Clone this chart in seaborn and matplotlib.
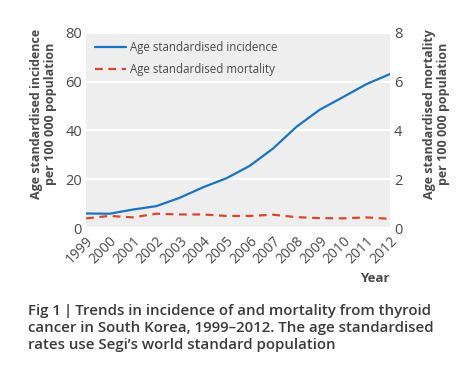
import matplotlib
matplotlib.use("Agg")
import matplotlib.pyplot as plt
import seaborn as sns
import numpy as np
import pandas as pd

years = list(range(1999, 2013))
incidence = [6.0, 5.9, 7.6, 9.0, 12.4, 16.7, 20.4, 25.5, 32.6, 41.5, 48.5, 53.7, 59.0, 63.1]
mortality = [0.40, 0.50, 0.44, 0.59, 0.56, 0.56, 0.50, 0.50, 0.55, 0.45, 0.41, 0.40, 0.44, 0.38]

left_ticks = [0, 20, 40, 60, 80]
right_ticks = [0, 2, 4, 6, 8]

df = pd.DataFrame({"Year": years, "Incidence": incidence, "Mortality": mortality})

sns.set_style("white")
plt.rcParams["font.family"] = ["Open Sans", "DejaVu Sans"]

txt = "#4a4a4a"
blue = "#1a74c4"
red = "#d9472b"

fig = plt.figure(figsize=(4.68, 3.65), dpi=100)
ax = fig.add_axes([0.184, 0.375, 0.649, 0.535])
ax.set_facecolor("#eeeeee")

sns.lineplot(data=df, x="Year", y="Incidence", ax=ax, color=blue, lw=1.6,
             label="Age standardised incidence")
ax2 = ax.twinx()
sns.lineplot(data=df, x="Year", y="Mortality", ax=ax2, color=red, lw=1.6,
             label="Age standardised mortality")
ax2.lines[0].set_dashes((3.5, 2.5))

ax.set_xlim(1999, 2012)
ax.set_ylim(0, 80)
ax2.set_ylim(0, 8)
ax.set_yticks(left_ticks)
ax2.set_yticks(right_ticks)
ax.set_xticks(years)
ax.set_xticklabels([str(y) for y in years], rotation=45, ha="right",
                   rotation_mode="anchor", fontsize=10, color=txt)
ax.tick_params(axis="x", direction="in", length=4, color="white", width=1, pad=4)
ax.tick_params(axis="y", length=0, labelsize=10.5, labelcolor=txt, pad=3)
ax2.tick_params(axis="y", length=0, labelsize=10.5, labelcolor=txt, pad=3)
ax.grid(axis="y", color="white", lw=1.6)
ax.set_axisbelow(True)
for a in (ax, ax2):
    for s in a.spines.values():
        s.set_visible(False)

ax.set_xlabel("")
ax.set_ylabel("Age standardised incidence\nper 100 000 population", fontsize=9.0,
              fontweight="bold", color=txt, linespacing=1.1)
ax.yaxis.set_label_coords(-0.095, 0.585)
ax2.set_ylabel("Age standardised mortality\nper 100 000 population", fontsize=9.0,
               fontweight="bold", color=txt, linespacing=1.1)
ax2.yaxis.set_label_coords(1.11, 0.585)
ax.text(1.0, -0.26, "Year", transform=ax.transAxes, ha="right", va="center",
        fontsize=9.5, fontweight="bold", color=txt)

h1, l1 = ax.get_legend_handles_labels()
h2, l2 = ax2.get_legend_handles_labels()
if ax2.get_legend():
    ax2.get_legend().remove()
ax.legend(h1 + h2, l1 + l2, loc="upper left", frameon=False, fontsize=8.3,
          labelcolor=txt, handlelength=2.7, handletextpad=0.35,
          borderaxespad=0.35, labelspacing=0.75)

fig.text(0.06, 0.168, "Fig 1\u2009|\u2009Trends in incidence of and mortality from thyroid\n"
         "cancer in South Korea, 1999\u20132012. The age standardised\n"
         "rates use Segi\u2019s world standard population",
         ha="left", va="top", fontsize=10.8, fontweight="semibold", color="#3a3a3a",
         linespacing=1.3)

fig.savefig("out.png", dpi=100, facecolor="white")
